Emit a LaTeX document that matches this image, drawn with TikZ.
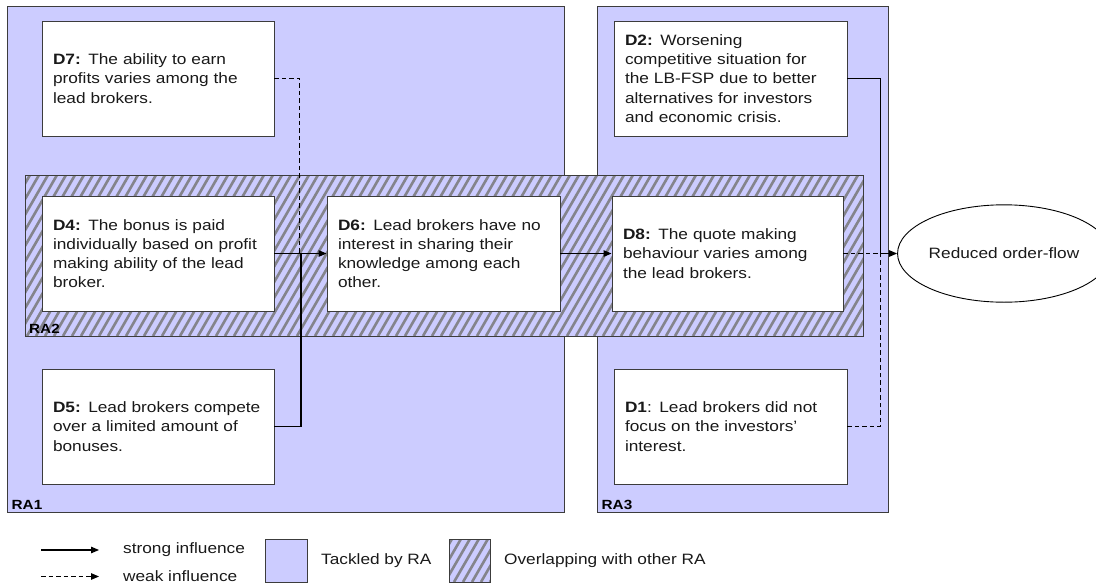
\documentclass[tikz,border=0pt]{standalone}
\usepackage{fontspec}
\setmainfont{Liberation Sans}[FakeStretch=1.15]
\usetikzlibrary{arrows.meta,shapes.geometric}
\definecolor{lav}{RGB}{204,204,255}
\definecolor{hatchgray}{RGB}{132,132,140}
\definecolor{bord}{RGB}{60,60,60}
\definecolor{ink}{RGB}{25,25,25}
\tikzset{
  txt/.style={font=\fontsize{15}{19.2}\selectfont, text=ink},
  dbox/.style={txt, draw=bord, line width=0.9pt, fill=white, rectangle, inner xsep=11pt, inner ysep=0pt, minimum height=115pt, align=left, anchor=center},
  ralabel/.style={font=\bfseries\fontsize{13.3}{15}\selectfont, anchor=base west, inner sep=0pt},
  strong/.style={draw=black, line width=1.1pt},
  weak/.style={draw=black, line width=1.1pt, dash pattern=on 4.5pt off 3pt},
  tip/.style={-{Triangle[length=8pt,width=6.5pt]}},
  hatchline/.style={draw=hatchgray, line width=2.6pt},
  region/.style={draw=bord, line width=0.9pt, fill=lav},
  legtext/.style={txt, anchor=west, inner sep=0pt},
}
\begin{document}
\begin{tikzpicture}[x=1pt,y=-1pt]
\useasboundingbox (0,0) rectangle (1096,587);
% regions RA1 and RA3
\draw[region] (7.5,6.5) rectangle (564.5,512.5);
\draw[region] (597.5,6.5) rectangle (888.5,512.5);
% RA2 hatched band
\begin{scope}
  \clip (25,175) rectangle (863,336);
  \fill[lav] (25,175) rectangle (863,336);
  \foreach \x in {-90,-81,...,870} \draw[hatchline] (\x,336) -- ++(93,-161);
\end{scope}
\draw[draw=bord,line width=0.9pt] (25,175) rectangle (863,336);
% region labels
\node[ralabel] (ra1) at (11.5,509.5) {RA1};
\node[ralabel] (ra2) at (29,333) {RA2};
\node[ralabel] (ra3) at (601.5,509.5) {RA3};
% boxes
\node[dbox, text width=210pt] (D7) at (158,78.5) {\textbf{D7:} The ability to earn\\profits varies among the\\lead brokers.};
\node[dbox, text width=210pt] (D4) at (158,253.5) {\textbf{D4:} The bonus is paid\\individually based on profit\\making ability of the lead\\broker.};
\node[dbox, text width=210pt] (D5) at (158,426.5) {\textbf{D5:} Lead brokers compete\\over a limited amount of\\bonuses.};
\node[dbox, text width=211pt] (D6) at (443.5,253.5) {\textbf{D6:} Lead brokers have no\\interest in sharing their\\knowledge among each\\other.};
\node[dbox, text width=209pt] (D8) at (727.5,253.5) {\textbf{D8:} The quote making\\behaviour varies among\\the lead brokers.};
\node[dbox, text width=211pt] (D2) at (730.5,78.5) {\textbf{D2:} Worsening\\competitive situation for\\the LB-FSP due to better\\alternatives for investors\\and economic crisis.};
\node[dbox, text width=211pt] (D1) at (730.5,426.5) {\textbf{D1}: Lead brokers did not\\focus on the investors’\\interest.};
\node[txt, draw=black, line width=0.9pt, ellipse, minimum width=182pt, minimum height=97.4pt, inner sep=0pt, fill=white] (E) at (1004,253.5) {Reduced order-flow};
% connectors
\coordinate (j1) at (301,253.5);
\coordinate (j2) at (299.5,253.5);
\coordinate (j3) at (880.7,253.5);
\draw[weak] (D7.east) -| (j2);
\draw[strong] (D5.east) -| (j1);
\draw[strong,tip] (D4.east) -- (D6.west);
\draw[strong,tip] (D6.east) -- (D8.west);
\draw[weak] (D8.east) -- (j3);
\draw[weak] (D1.east) -| (j3);
\draw[strong,tip] (D2.east) -| (j3) -- (E.west);
% legend
\coordinate (ls1) at (41,550);
\coordinate (ls2) at (99,550);
\coordinate (lw1) at (41,576.5);
\coordinate (lw2) at (99,576.5);
\draw[strong,tip] (ls1) -- (ls2);
\draw[weak,tip] (lw1) -- (lw2);
\node[legtext] (lst) at (123,550) {strong influence};
\node[legtext] (lwt) at (123,576.5) {weak influence};
\node[draw=bord, line width=0.9pt, fill=lav, minimum width=42pt, minimum height=43pt, inner sep=0pt] (lbox) at (286,560.5) {};
\node[legtext] (lboxt) at (321,561) {Tackled by RA};
\begin{scope}
  \clip (449,539) rectangle (490,582);
  \fill[lav] (449,539) rectangle (490,582);
  \foreach \x in {400,409,...,500} \draw[hatchline] (\x,582) -- ++(24.9,-43);
\end{scope}
\node[draw=bord, line width=0.9pt, minimum width=41pt, minimum height=43pt, inner sep=0pt] (hbox) at (469.5,560.5) {};
\node[legtext] (hboxt) at (504,561) {Overlapping with other RA};
\end{tikzpicture}
\end{document}
